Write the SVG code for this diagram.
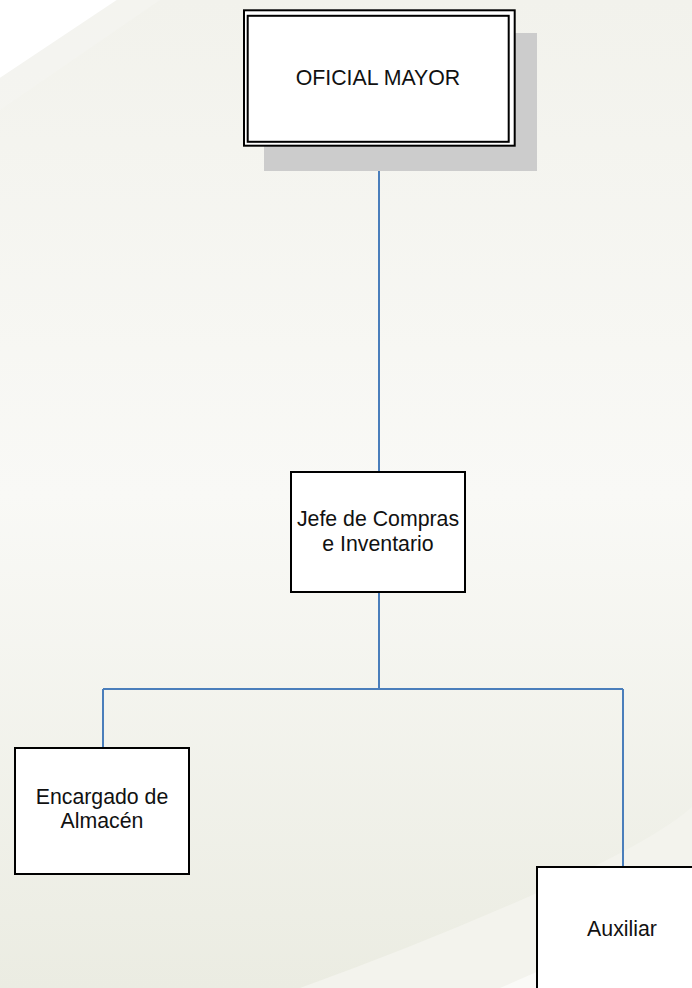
<svg xmlns="http://www.w3.org/2000/svg" width="692" height="988" viewBox="0 0 692 988">
<defs>
<linearGradient id="bg" x1="0" y1="0" x2="0" y2="1">
<stop offset="0" stop-color="#f2f2ec"/>
<stop offset="0.5" stop-color="#f9f9f6"/>
<stop offset="1" stop-color="#ebece2"/>
</linearGradient>
<style>
.box{fill:#ffffff;stroke:#000000;stroke-width:2}
.t{font-family:"Liberation Sans",Arial,sans-serif;font-size:21.3px;fill:#111111;text-anchor:middle}
.c{fill:none;stroke:#4a7ebb;stroke-width:2}
</style>
</defs>
<rect x="0" y="0" width="692" height="988" fill="url(#bg)"/>
<polygon points="0,0 117,0 0,78" fill="#ffffff"/>
<polygon points="117,0 160,0 0,110 0,78" fill="#f5f5f1" opacity="0.6"/>
<path d="M300,988 Q420,945 537,893 T692,807 L692,988 Z" fill="#f3f3ed"/>
<path d="M500,988 Q600,945 692,900 L692,988 Z" fill="#fafaf7"/>

<g id="connectors">
<path class="c" d="M379,171 V472"/>
<path class="c" d="M379,592 V689"/>
<path class="c" d="M103,689 H623"/>
<path class="c" d="M103,689 V748"/>
<path class="c" d="M623,689 V867"/>
</g>

<g id="oficial-mayor">
<rect x="264" y="33" width="273" height="138" fill="#cccccc"/>
<rect class="box" x="244" y="10.3" width="270.7" height="135.4"/>
<rect class="box" x="247.7" y="15.8" width="261" height="126"/>
<text class="t" x="378" y="85">OFICIAL MAYOR</text>
</g>

<g id="jefe-compras">
<rect class="box" x="291" y="472" width="174" height="120"/>
<text class="t" x="378" y="526">Jefe de Compras</text>
<text class="t" x="378" y="551">e Inventario</text>
</g>

<g id="encargado-almacen">
<rect class="box" x="15" y="748" width="174" height="126"/>
<text class="t" x="102" y="804">Encargado de</text>
<text class="t" x="102" y="828">Almacén</text>
</g>

<g id="auxiliar">
<rect class="box" x="537" y="867" width="174" height="130"/>
<text class="t" x="622" y="936">Auxiliar</text>
</g>
</svg>
